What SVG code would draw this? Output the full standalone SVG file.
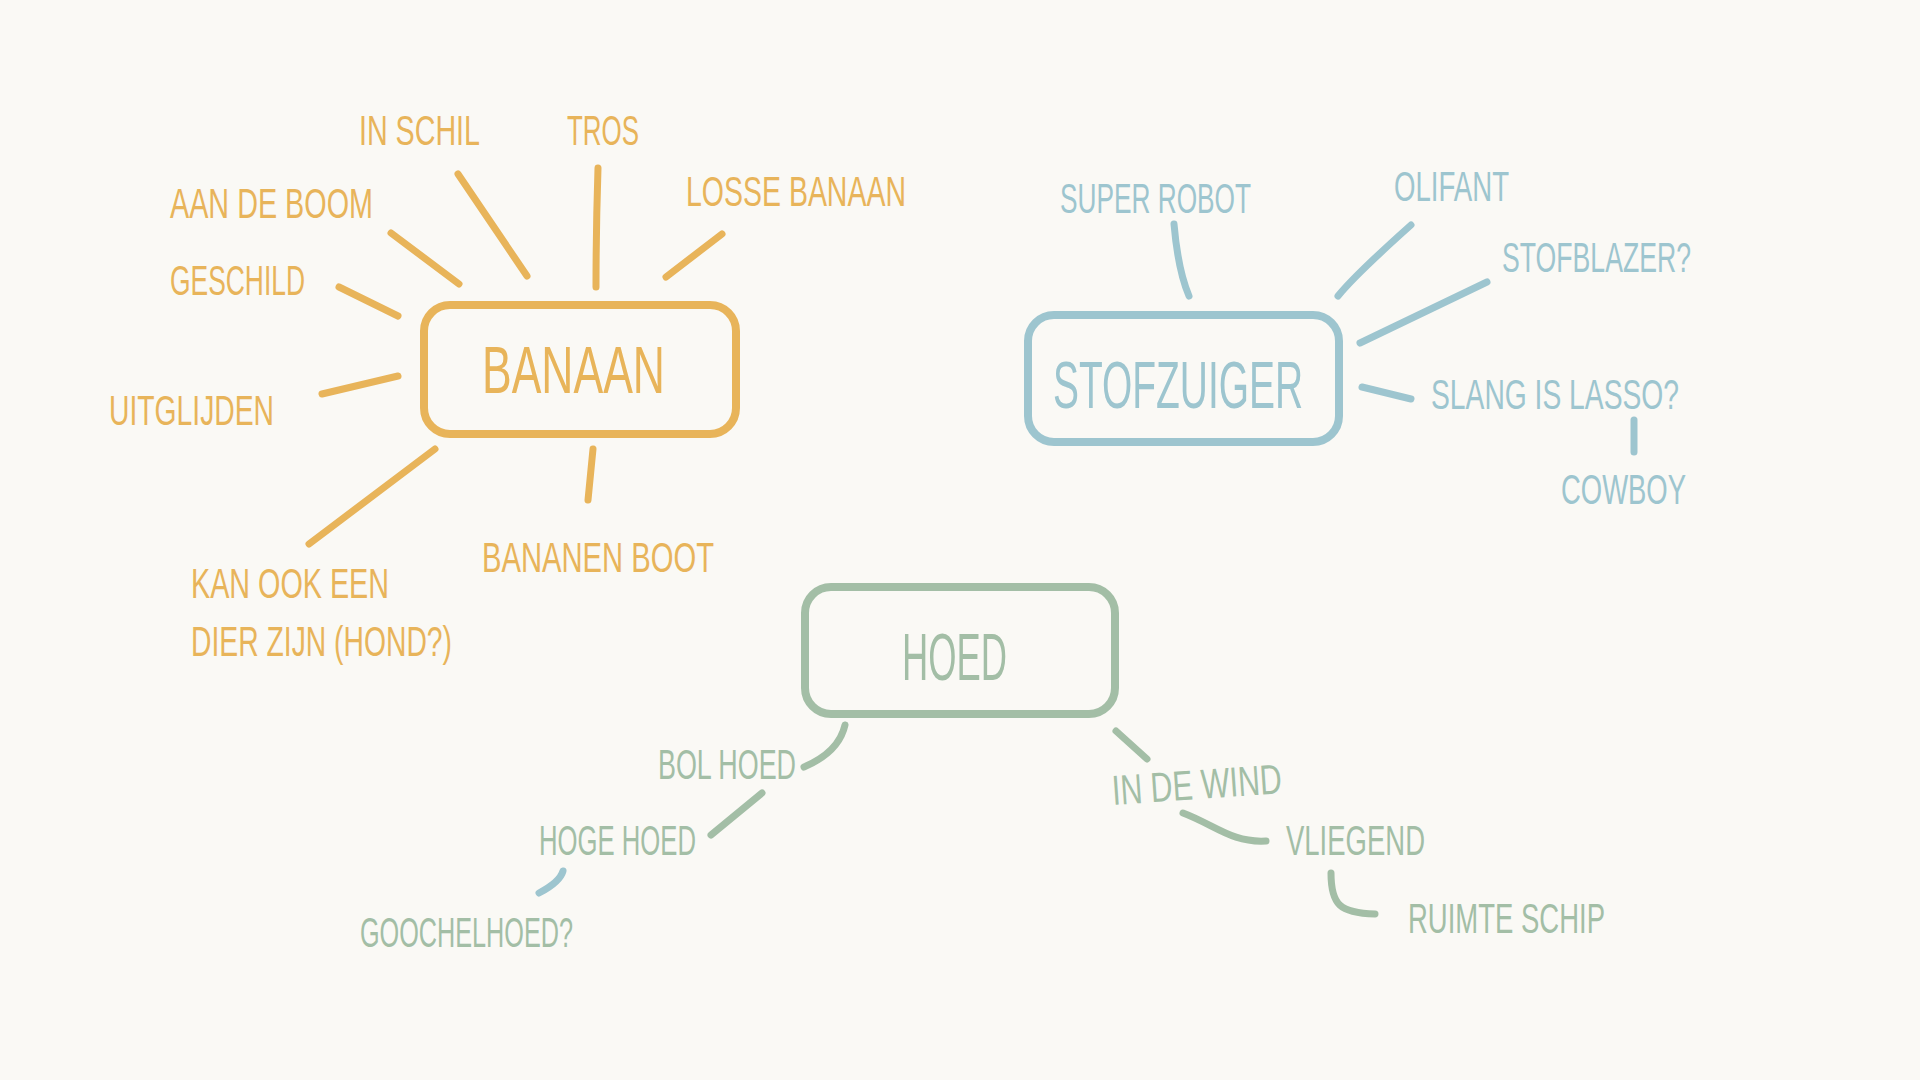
<svg xmlns="http://www.w3.org/2000/svg" width="1920" height="1080" viewBox="0 0 1920 1080">
<style>
text{font-family:"Liberation Sans Narrow","Liberation Sans","DejaVu Sans",sans-serif;}
.lbl{font-size:42px;}
.big{font-size:66px;}
.o{fill:#e8b45a;}
.b{fill:#9dc5cf;}
.g{fill:#a3bea6;}
.box{fill:none;stroke-width:8;}
.ln{fill:none;stroke-width:7;stroke-linecap:round;}
.so{stroke:#e8b45a;}
.sb{stroke:#9dc5cf;}
.sg{stroke:#a3bea6;}
</style>
<rect width="1920" height="1080" fill="#faf9f5"/>
<g id="connectors">
<path class="ln so" d="M458,174 L527,276"/>
<path class="ln so" d="M598,168 Q596,230 596,287"/>
<path class="ln so" d="M391,233 L459,284"/>
<path class="ln so" d="M722,234 L666,277"/>
<path class="ln so" d="M339,287 L398,316"/>
<path class="ln so" d="M322,394 L398,376"/>
<path class="ln so" d="M435,449 L309,544"/>
<path class="ln so" d="M593,449 L588,500"/>
<path class="ln sb" d="M1174,224 Q1178,270 1189,296"/>
<path class="ln sb" d="M1411,225 Q1355,275 1338,296"/>
<path class="ln sb" d="M1487,282 L1360,343"/>
<path class="ln sb" d="M1362,387 L1411,399"/>
<path class="ln sb" d="M1634,420 L1634,452"/>
<path class="ln sg" d="M845,725 Q839,752 804,767"/>
<path class="ln sg" d="M762,793 L711,835"/>
<path class="ln sb" d="M563,871 Q560,882 539,893"/>
<path class="ln sg" d="M1116,731 L1147,759"/>
<path class="ln sg" d="M1183,813 C1215,825 1232,843 1266,841"/>
<path class="ln sg" d="M1331,873 C1331,905 1340,913 1375,914"/>
</g>
<g id="banaan">
<rect class="box so" x="424" y="305" width="312" height="129" rx="26"/>
<text class="big o" x="482" y="393" textLength="183" lengthAdjust="spacingAndGlyphs">BANAAN</text>
</g>
<g id="banaan-labels">
<text class="lbl o" x="359" y="145" textLength="121" lengthAdjust="spacingAndGlyphs">IN SCHIL</text>
<text class="lbl o" x="567" y="145" textLength="72" lengthAdjust="spacingAndGlyphs">TROS</text>
<text class="lbl o" x="170" y="218" textLength="203" lengthAdjust="spacingAndGlyphs">AAN DE BOOM</text>
<text class="lbl o" x="686" y="206" textLength="220" lengthAdjust="spacingAndGlyphs">LOSSE BANAAN</text>
<text class="lbl o" x="170" y="295" textLength="135" lengthAdjust="spacingAndGlyphs">GESCHILD</text>
<text class="lbl o" x="109" y="425" textLength="165" lengthAdjust="spacingAndGlyphs">UITGLIJDEN</text>
<text class="lbl o" x="482" y="572" textLength="232" lengthAdjust="spacingAndGlyphs">BANANEN BOOT</text>
<text class="lbl o" x="191" y="598" textLength="198" lengthAdjust="spacingAndGlyphs">KAN OOK EEN</text>
<text class="lbl o" x="191" y="656" textLength="261" lengthAdjust="spacingAndGlyphs">DIER ZIJN (HOND?)</text>
</g>
<g id="stofzuiger">
<rect class="box sb" x="1028" y="315" width="311" height="127" rx="26"/>
<text class="big b" x="1053" y="408" textLength="250" lengthAdjust="spacingAndGlyphs">STOFZUIGER</text>
</g>
<g id="stofzuiger-labels">
<text class="lbl b" x="1060" y="213" textLength="191" lengthAdjust="spacingAndGlyphs">SUPER ROBOT</text>
<text class="lbl b" x="1394" y="201" textLength="115" lengthAdjust="spacingAndGlyphs">OLIFANT</text>
<text class="lbl b" x="1502" y="272" textLength="189" lengthAdjust="spacingAndGlyphs">STOFBLAZER?</text>
<text class="lbl b" x="1431" y="409" textLength="248" lengthAdjust="spacingAndGlyphs">SLANG IS LASSO?</text>
<text class="lbl b" x="1561" y="504" textLength="125" lengthAdjust="spacingAndGlyphs">COWBOY</text>
</g>
<g id="hoed">
<rect class="box sg" x="805" y="587" width="310" height="127" rx="26"/>
<text class="big g" x="902" y="680" textLength="105" lengthAdjust="spacingAndGlyphs">HOED</text>
</g>
<g id="hoed-labels">
<text class="lbl g" x="658" y="779" textLength="138" lengthAdjust="spacingAndGlyphs">BOL HOED</text>
<text class="lbl g" x="539" y="855" textLength="157" lengthAdjust="spacingAndGlyphs">HOGE HOED</text>
<text class="lbl g" x="360" y="947" textLength="213" lengthAdjust="spacingAndGlyphs">GOOCHELHOED?</text>
<text class="lbl g" x="1113" y="805" textLength="170" lengthAdjust="spacingAndGlyphs" transform="rotate(-4 1113 805)">IN DE WIND</text>
<text class="lbl g" x="1286" y="855" textLength="139" lengthAdjust="spacingAndGlyphs">VLIEGEND</text>
<text class="lbl g" x="1408" y="933" textLength="197" lengthAdjust="spacingAndGlyphs">RUIMTE SCHIP</text>
</g>
</svg>
